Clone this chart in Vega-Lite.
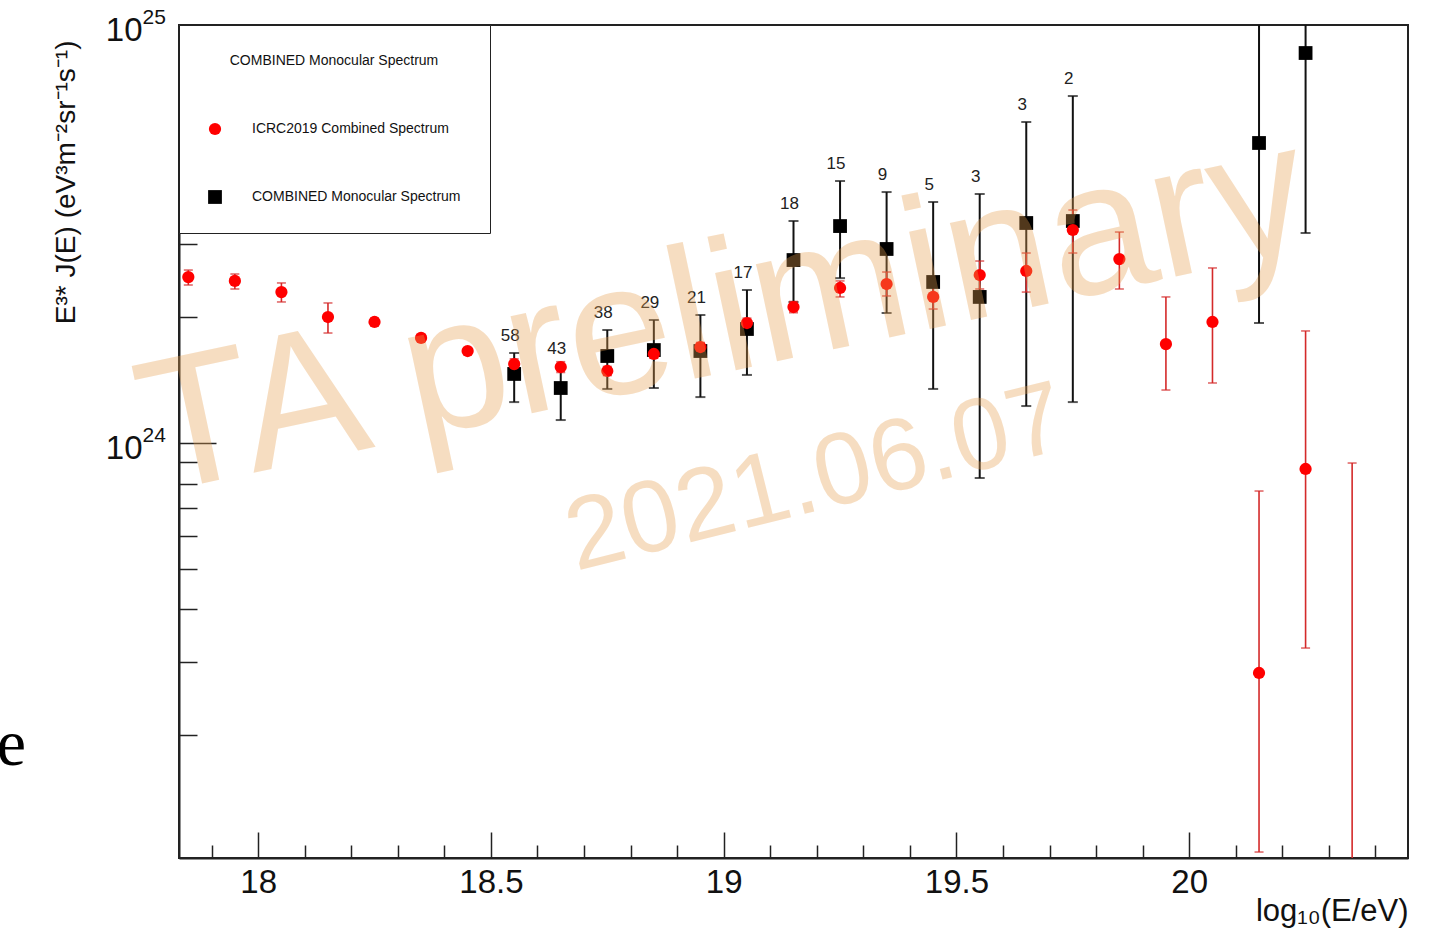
{
  "$schema": "https://vega.github.io/schema/vega-lite/v6.json",
  "autosize": {"type": "none"},
  "width": 1229,
  "height": 833,
  "padding": {"left": 179, "top": 25, "right": 42, "bottom": 76},
  "background": "white",
  "config": {
    "font": "Liberation Sans",
    "view": {"stroke": "#222", "strokeWidth": 2},
    "axis": {"grid": false, "domainColor": "#222", "domainWidth": 2, "tickColor": "#222", "tickWidth": 1.5, "labelColor": "#111", "titleColor": "#111", "labelFont": "Liberation Sans", "titleFont": "Liberation Sans", "titleFontWeight": "normal", "labelOverlap": false, "labelFlush": false},
    "legend": {
      "orient": "top-left", "offset": 0, "padding": 29,
      "strokeColor": "#222", "fillColor": "white",
      "titleFontSize": 14, "titleFontWeight": "normal", "titleColor": "#111", "titleFont": "Liberation Sans",
      "titleAnchor": "middle", "titlePadding": 54, "titleLimit": 500,
      "labelFontSize": 14, "labelColor": "#111", "labelFont": "Liberation Sans", "labelLimit": 500,
      "labelOffset": 30, "rowPadding": 54, "symbolStrokeWidth": 0
    }
  },
  "datasets": {
    "pts": [
      {"e": 18.55, "flux": 1.463e24, "lo": 1.253e24, "hi": 1.642e24, "series": "COMBINED Monocular Spectrum", "n": "58"},
      {"e": 18.65, "flux": 1.354e24, "lo": 1.135e24, "hi": 1.528e24, "series": "COMBINED Monocular Spectrum", "n": "43"},
      {"e": 18.75, "flux": 1.615e24, "lo": 1.347e24, "hi": 1.864e24, "series": "COMBINED Monocular Spectrum", "n": "38"},
      {"e": 18.85, "flux": 1.669e24, "lo": 1.354e24, "hi": 1.969e24, "series": "COMBINED Monocular Spectrum", "n": "29"},
      {"e": 18.95, "flux": 1.660e24, "lo": 1.288e24, "hi": 2.024e24, "series": "COMBINED Monocular Spectrum", "n": "21"},
      {"e": 19.05, "flux": 1.874e24, "lo": 1.455e24, "hi": 2.323e24, "series": "COMBINED Monocular Spectrum", "n": "17"},
      {"e": 19.15, "flux": 2.740e24, "lo": 2.175e24, "hi": 3.397e24, "series": "COMBINED Monocular Spectrum", "n": "18"},
      {"e": 19.25, "flux": 3.304e24, "lo": 2.480e24, "hi": 4.234e24, "series": "COMBINED Monocular Spectrum", "n": "15"},
      {"e": 19.35, "flux": 2.912e24, "lo": 2.047e24, "hi": 3.985e24, "series": "COMBINED Monocular Spectrum", "n": "9"},
      {"e": 19.45, "flux": 2.428e24, "lo": 1.347e24, "hi": 3.772e24, "series": "COMBINED Monocular Spectrum", "n": "5"},
      {"e": 19.55, "flux": 2.236e24, "lo": 8.248e23, "hi": 3.942e24, "series": "COMBINED Monocular Spectrum", "n": "3"},
      {"e": 19.65, "flux": 3.360e24, "lo": 1.226e24, "hi": 5.861e24, "series": "COMBINED Monocular Spectrum", "n": "3"},
      {"e": 19.75, "flux": 3.397e24, "lo": 1.253e24, "hi": 6.762e24, "series": "COMBINED Monocular Spectrum", "n": "2"},
      {"e": 20.15, "flux": 5.221e24, "lo": 1.937e24, "hi": 1.3e25, "series": "COMBINED Monocular Spectrum", "n": null},
      {"e": 20.25, "flux": 8.57e24, "lo": 3.18e24, "hi": 1.3e25, "series": "COMBINED Monocular Spectrum", "n": null},
      {"e": 17.85, "flux": 2.494e24, "lo": 2.388e24, "hi": 2.593e24, "series": "ICRC2019 Combined Spectrum", "n": null},
      {"e": 17.95, "flux": 2.442e24, "lo": 2.336e24, "hi": 2.537e24, "series": "ICRC2019 Combined Spectrum", "n": null},
      {"e": 18.05, "flux": 2.297e24, "lo": 2.175e24, "hi": 2.415e24, "series": "ICRC2019 Combined Spectrum", "n": null},
      {"e": 18.15, "flux": 2.002e24, "lo": 1.833e24, "hi": 2.163e24, "series": "ICRC2019 Combined Spectrum", "n": null},
      {"e": 18.25, "flux": 1.948e24, "lo": 1.91e24, "hi": 1.99e24, "series": "ICRC2019 Combined Spectrum", "n": null},
      {"e": 18.35, "flux": 1.784e24, "lo": 1.755e24, "hi": 1.815e24, "series": "ICRC2019 Combined Spectrum", "n": null},
      {"e": 18.45, "flux": 1.660e24, "lo": 1.635e24, "hi": 1.685e24, "series": "ICRC2019 Combined Spectrum", "n": null},
      {"e": 18.55, "flux": 1.545e24, "lo": 1.50e24, "hi": 1.59e24, "series": "ICRC2019 Combined Spectrum", "n": null},
      {"e": 18.65, "flux": 1.520e24, "lo": 1.475e24, "hi": 1.565e24, "series": "ICRC2019 Combined Spectrum", "n": null},
      {"e": 18.75, "flux": 1.487e24, "lo": 1.45e24, "hi": 1.525e24, "series": "ICRC2019 Combined Spectrum", "n": null},
      {"e": 18.85, "flux": 1.633e24, "lo": 1.595e24, "hi": 1.672e24, "series": "ICRC2019 Combined Spectrum", "n": null},
      {"e": 18.95, "flux": 1.697e24, "lo": 1.655e24, "hi": 1.74e24, "series": "ICRC2019 Combined Spectrum", "n": null},
      {"e": 19.05, "flux": 1.937e24, "lo": 1.885e24, "hi": 1.99e24, "series": "ICRC2019 Combined Spectrum", "n": null},
      {"e": 19.15, "flux": 2.115e24, "lo": 2.05e24, "hi": 2.18e24, "series": "ICRC2019 Combined Spectrum", "n": null},
      {"e": 19.25, "flux": 2.349e24, "lo": 2.236e24, "hi": 2.442e24, "series": "ICRC2019 Combined Spectrum", "n": null},
      {"e": 19.35, "flux": 2.401e24, "lo": 2.248e24, "hi": 2.565e24, "series": "ICRC2019 Combined Spectrum", "n": null},
      {"e": 19.45, "flux": 2.236e24, "lo": 2.092e24, "hi": 2.401e24, "series": "ICRC2019 Combined Spectrum", "n": null},
      {"e": 19.55, "flux": 2.523e24, "lo": 2.336e24, "hi": 2.725e24, "series": "ICRC2019 Combined Spectrum", "n": null},
      {"e": 19.65, "flux": 2.580e24, "lo": 2.297e24, "hi": 2.848e24, "series": "ICRC2019 Combined Spectrum", "n": null},
      {"e": 19.75, "flux": 3.233e24, "lo": 2.848e24, "hi": 3.609e24, "series": "ICRC2019 Combined Spectrum", "n": null},
      {"e": 19.85, "flux": 2.755e24, "lo": 2.336e24, "hi": 3.197e24, "series": "ICRC2019 Combined Spectrum", "n": null},
      {"e": 19.95, "flux": 1.725e24, "lo": 1.339e24, "hi": 2.236e24, "series": "ICRC2019 Combined Spectrum", "n": null},
      {"e": 20.05, "flux": 1.948e24, "lo": 1.392e24, "hi": 2.623e24, "series": "ICRC2019 Combined Spectrum", "n": null},
      {"e": 20.15, "flux": 2.818e23, "lo": 1.051e23, "hi": 7.677e23, "series": "ICRC2019 Combined Spectrum", "n": null},
      {"e": 20.25, "flux": 8.668e23, "lo": 3.233e23, "hi": 1.854e24, "series": "ICRC2019 Combined Spectrum", "n": null},
      {"e": 20.35, "flux": null, "lo": 9.0e22, "hi": 8.957e23, "series": "ICRC2019 Combined Spectrum", "n": null}
    ],
    "wm": [
      {"label": "TA preliminary", "e": 19.0, "flux": 2.02e24},
      {"label": "2021.06.07", "e": 19.198, "flux": 8.2e23},
      {"label": "e", "e": 17.47, "flux": 1.9e23}
    ]
  },
  "resolve": {"axis": {"x": "independent", "y": "independent"}},
  "layer": [
    {
      "data": {"name": "pts"},
      "transform": [{"filter": "datum.series === 'COMBINED Monocular Spectrum'"}],
      "mark": {"type": "rule", "color": "#111", "strokeWidth": 2, "clip": true},
      "encoding": {
        "x": {"field": "e", "type": "quantitative", "scale": {"domain": [17.83, 20.47], "nice": false, "zero": false},
              "axis": {"orient": "bottom", "values": [18, 18.5, 19, 19.5, 20], "ticks": false, "labelExpr": "'' + datum.value", "labelFontSize": 33, "labelPadding": 8,
                       "title": "log₁₀(E/eV)", "titleFontSize": 31, "titleAnchor": "end", "titleAlign": "right", "titleBaseline": "alphabetic", "titleY": 62}},
        "y": {"field": "lo", "type": "quantitative", "scale": {"type": "log", "domain": [1.017e23, 1e25], "nice": false}, "axis": null},
        "y2": {"field": "hi"}
      }
    },
    {
      "data": {"name": "pts"},
      "transform": [{"filter": "datum.series === 'COMBINED Monocular Spectrum'"}],
      "mark": {"type": "tick", "orient": "horizontal", "color": "#111", "size": 10, "thickness": 2, "clip": true},
      "encoding": {
        "x": {"field": "e", "type": "quantitative", "scale": {"domain": [17.83, 20.47], "nice": false, "zero": false},
              "axis": {"orient": "bottom", "values": [18, 18.5, 19, 19.5, 20], "labels": false, "domain": false, "tickSize": -26, "title": null}},
        "y": {"field": "lo", "type": "quantitative", "scale": {"type": "log", "domain": [1.017e23, 1e25], "nice": false}, "axis": null}
      }
    },
    {
      "data": {"name": "pts"},
      "transform": [{"filter": "datum.series === 'COMBINED Monocular Spectrum'"}],
      "mark": {"type": "tick", "orient": "horizontal", "color": "#111", "size": 10, "thickness": 2, "clip": true},
      "encoding": {
        "x": {"field": "e", "type": "quantitative", "scale": {"domain": [17.83, 20.47], "nice": false, "zero": false},
              "axis": {"orient": "bottom", "values": [17.9, 18.1, 18.2, 18.3, 18.4, 18.6, 18.7, 18.8, 18.9, 19.1, 19.2, 19.3, 19.4, 19.6, 19.7, 19.8, 19.9, 20.1, 20.2, 20.3, 20.4], "labels": false, "domain": false, "tickSize": -13, "title": null}},
        "y": {"field": "hi", "type": "quantitative", "scale": {"type": "log", "domain": [1.017e23, 1e25], "nice": false}, "axis": null}
      }
    },
    {
      "data": {"name": "pts"},
      "transform": [{"filter": "datum.series === 'ICRC2019 Combined Spectrum'"}],
      "mark": {"type": "rule", "color": "#d42a2a", "strokeWidth": 1.6, "clip": true},
      "encoding": {
        "x": {"field": "e", "type": "quantitative", "scale": {"domain": [17.83, 20.47], "nice": false, "zero": false}, "axis": null},
        "y": {"field": "lo", "type": "quantitative", "scale": {"type": "log", "domain": [1.017e23, 1e25], "nice": false},
              "axis": {"orient": "left", "values": [1e24, 1e25], "ticks": false, "labelExpr": "'10'", "labelFontSize": 33, "labelPadding": 37, "labelAlign": "right", "labelBaseline": "middle", "labelOffset": 5,
                       "title": "E³* J(E) (eV³m⁻²sr⁻¹s⁻¹)", "titleFontSize": 28, "titleAnchor": "end", "titleBaseline": "middle", "titleX": -113, "titleY": 15}},
        "y2": {"field": "hi"}
      }
    },
    {
      "data": {"name": "pts"},
      "transform": [{"filter": "datum.series === 'ICRC2019 Combined Spectrum'"}],
      "mark": {"type": "tick", "orient": "horizontal", "color": "#d42a2a", "size": 9, "thickness": 1.6, "clip": true},
      "encoding": {
        "x": {"field": "e", "type": "quantitative", "scale": {"domain": [17.83, 20.47], "nice": false, "zero": false}, "axis": null},
        "y": {"field": "lo", "type": "quantitative", "scale": {"type": "log", "domain": [1.017e23, 1e25], "nice": false},
              "axis": {"orient": "left", "values": [1e24, 1e25], "ticks": false, "domain": false, "labelExpr": "datum.value > 5e24 ? '25' : '24'", "labelFontSize": 21, "labelPadding": 37, "labelAlign": "left", "labelBaseline": "middle", "labelOffset": -8, "title": null}}
      }
    },
    {
      "data": {"name": "pts"},
      "transform": [{"filter": "datum.series === 'ICRC2019 Combined Spectrum'"}],
      "mark": {"type": "tick", "orient": "horizontal", "color": "#d42a2a", "size": 9, "thickness": 1.6, "clip": true},
      "encoding": {
        "x": {"field": "e", "type": "quantitative", "scale": {"domain": [17.83, 20.47], "nice": false, "zero": false}, "axis": null},
        "y": {"field": "hi", "type": "quantitative", "scale": {"type": "log", "domain": [1.017e23, 1e25], "nice": false},
              "axis": {"orient": "left", "values": [1e24, 1e25], "labels": false, "domain": false, "tickSize": -37, "title": null}}
      }
    },
    {
      "data": {"name": "pts"},
      "mark": {"type": "point", "filled": true, "opacity": 1, "clip": true},
      "encoding": {
        "x": {"field": "e", "type": "quantitative", "scale": {"domain": [17.83, 20.47], "nice": false, "zero": false}, "axis": null},
        "y": {"field": "flux", "type": "quantitative", "scale": {"type": "log", "domain": [1.017e23, 1e25], "nice": false},
              "axis": {"orient": "left", "values": [2e23, 3e23, 4e23, 5e23, 6e23, 7e23, 8e23, 9e23, 2e24, 3e24], "labels": false, "domain": false, "tickSize": -18, "title": null}},
        "color": {"field": "series", "type": "nominal", "title": "COMBINED Monocular Spectrum",
                  "scale": {"domain": ["ICRC2019 Combined Spectrum", "COMBINED Monocular Spectrum"], "range": ["#ff0000", "#000000"]}},
        "shape": {"field": "series", "type": "nominal", "title": "COMBINED Monocular Spectrum",
                  "scale": {"domain": ["ICRC2019 Combined Spectrum", "COMBINED Monocular Spectrum"], "range": ["circle", "square"]}},
        "size": {"field": "series", "type": "nominal", "title": "COMBINED Monocular Spectrum",
                 "scale": {"domain": ["ICRC2019 Combined Spectrum", "COMBINED Monocular Spectrum"], "range": [150, 190]}},
        "order": {"field": "series", "sort": "ascending"}
      }
    },
    {
      "data": {"name": "pts"},
      "transform": [{"filter": "datum.n != null"}],
      "mark": {"type": "text", "fontSize": 17, "color": "#222", "dx": -4, "dy": -17, "baseline": "middle", "align": "center"},
      "encoding": {
        "x": {"field": "e", "type": "quantitative", "scale": {"domain": [17.83, 20.47], "nice": false, "zero": false}, "axis": null},
        "y": {"field": "hi", "type": "quantitative", "scale": {"type": "log", "domain": [1.017e23, 1e25], "nice": false}, "axis": null},
        "text": {"field": "n"}
      }
    },
    {
      "data": {"name": "wm"},
      "transform": [{"filter": "datum.label === 'TA preliminary'"}],
      "mark": {"type": "text", "font": "Liberation Sans", "fontSize": 188, "angle": -12, "color": "#E8A050", "opacity": 0.35, "align": "center", "baseline": "middle"},
      "encoding": {
        "x": {"field": "e", "type": "quantitative", "scale": {"domain": [17.83, 20.47], "nice": false, "zero": false}, "axis": null},
        "y": {"field": "flux", "type": "quantitative", "scale": {"type": "log", "domain": [1.017e23, 1e25], "nice": false}, "axis": null},
        "text": {"field": "label"}
      }
    },
    {
      "data": {"name": "wm"},
      "transform": [{"filter": "datum.label === '2021.06.07'"}],
      "mark": {"type": "text", "font": "Liberation Sans", "fontSize": 102, "angle": -14, "color": "#E8A050", "opacity": 0.35, "align": "center", "baseline": "middle"},
      "encoding": {
        "x": {"field": "e", "type": "quantitative", "scale": {"domain": [17.83, 20.47], "nice": false, "zero": false}, "axis": null},
        "y": {"field": "flux", "type": "quantitative", "scale": {"type": "log", "domain": [1.017e23, 1e25], "nice": false}, "axis": null},
        "text": {"field": "label"}
      }
    },
    {
      "data": {"name": "wm"},
      "transform": [{"filter": "datum.label === 'e'"}],
      "mark": {"type": "text", "font": "Liberation Serif", "fontSize": 66, "color": "#000", "align": "center", "baseline": "middle", "clip": false},
      "encoding": {
        "x": {"field": "e", "type": "quantitative", "scale": {"domain": [17.83, 20.47], "nice": false, "zero": false}, "axis": null},
        "y": {"field": "flux", "type": "quantitative", "scale": {"type": "log", "domain": [1.017e23, 1e25], "nice": false}, "axis": null},
        "text": {"field": "label"}
      }
    }
  ]
}
